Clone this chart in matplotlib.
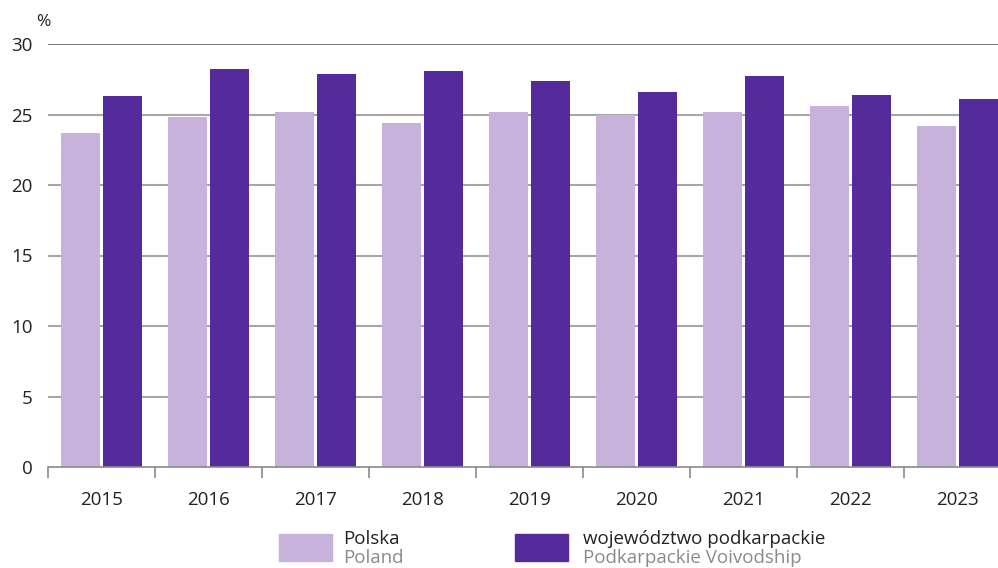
import matplotlib.pyplot as plt
import numpy as np
from matplotlib.patches import Rectangle

plt.rcParams['font.family'] = ['Open Sans', 'DejaVu Sans']

years = ['2015', '2016', '2017', '2018', '2019', '2020', '2021', '2022', '2023']
polska = [23.7, 24.8, 25.2, 24.4, 25.2, 25.0, 25.2, 25.6, 24.2]
podkarpackie = [26.3, 28.2, 27.9, 28.1, 27.4, 26.6, 27.7, 26.4, 26.1]

light = '#c7b2dc'
dark = '#552b9c'

fig = plt.figure(figsize=(9.98, 5.68), dpi=100)
ax = fig.add_axes([48 / 998, 101 / 568, 963 / 998, 423 / 568])

x = np.arange(len(years))
w = 0.365
ax.bar(x - 0.2, polska, width=w, color=light, zorder=2)
ax.bar(x + 0.2, podkarpackie, width=w, color=dark, zorder=2)

ax.set_xlim(-0.5, len(years) - 0.5)
ax.set_ylim(0, 30)
ax.set_yticks([0, 5, 10, 15, 20, 25, 30])
for y in [5, 10, 15, 20, 25]:
    ax.axhline(y, color='#a6a6a6', lw=1.5, zorder=1)
ax.axhline(30, color='#606060', lw=1.2, zorder=1)

for s in ['top', 'right', 'left']:
    ax.spines[s].set_visible(False)
ax.spines['bottom'].set_color('#8a8a8a')
ax.spines['bottom'].set_linewidth(1.2)

ax.set_xticks(x)
ax.set_xticklabels(years)
ax.set_xticks(np.arange(-0.5, len(years), 1), minor=True)
ax.tick_params(axis='x', which='major', length=0, pad=17, labelsize=13.5, colors='#222222')
ax.tick_params(axis='x', which='minor', length=8, width=1.2, color='#8a8a8a')
ax.tick_params(axis='y', length=0, pad=11, labelsize=13.5, colors='#222222')

fig.text(43.5 / 998, 1 - 22 / 568, '%', fontsize=12.5, color='#222222', ha='center', va='center')

# legend
fig.add_artist(Rectangle((279 / 998, 1 - 561 / 568), 53 / 998, 27 / 568,
                         transform=fig.transFigure, color=light))
fig.text(343 / 998, 1 - 544 / 568, 'Polska', fontsize=13.5, color='#222222', va='baseline')
fig.text(343 / 998, 1 - 567 / 568, 'Poland', fontsize=13.5, color='#8a8a8a', va='bottom')
fig.add_artist(Rectangle((515 / 998, 1 - 561 / 568), 53 / 998, 27 / 568,
                         transform=fig.transFigure, color=dark))
fig.text(583 / 998, 1 - 544 / 568, 'województwo podkarpackie', fontsize=13.5, color='#222222', va='baseline')
fig.text(583 / 998, 1 - 567 / 568, 'Podkarpackie Voivodship', fontsize=13.5, color='#8a8a8a', va='bottom')

fig.savefig('out.png', dpi=100)
